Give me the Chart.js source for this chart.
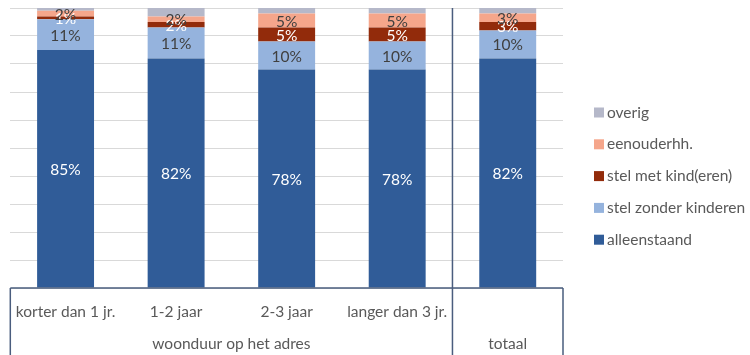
<!DOCTYPE html>
<html>
<head>
<meta charset="utf-8">
<script src="https://cdn.jsdelivr.net/npm/chart.js@4.4.1/dist/chart.umd.min.js"></script>
<style>
  html, body { margin: 0; padding: 0; background: #ffffff; }
  #wrap { width: 750px; height: 355px; }
</style>
</head>
<body>
<div id="wrap"><canvas id="c" width="750" height="355"></canvas></div>
<script>
const categories = ["korter dan 1 jr.", "1-2 jaar", "2-3 jaar", "langer dan 3 jr.", "totaal"];
const groups = [
  { label: "woonduur op het adres", from: 0, to: 3 },
  { label: "totaal", from: 4, to: 4 }
];
const seriesNames = ["alleenstaand", "stel zonder kinderen", "stel met kind(eren)", "eenouderhh.", "overig"];
const alleenstaand = [85, 82, 78, 78, 82];
const stelZonder = [11, 11, 10, 10, 10];
const stelMetKind = [1, 2, 5, 5, 3];
const eenouder = [2, 2, 5, 5, 3];
const overig = [1, 3, 2, 2, 2];
const yTicks = [0, 10, 20, 30, 40, 50, 60, 70, 80, 90, 100];

const colors = ["#305C98", "#95B3DD", "#922B0B", "#F5A68B", "#B5B8C9"];
const labelColors = ["#FFFFFF", "#404040", "#FFFFFF", "#404040", null];
const FONT = "Lato, 'Open Sans', sans-serif";
const FS = 15.5;
const FRAME = "#4A5D7E";

const seriesValues = [alleenstaand, stelZonder, stelMetKind, eenouder, overig];

const datasets = seriesNames.map((name, i) => ({
  label: name,
  data: seriesValues[i],
  backgroundColor: colors[i],
  borderWidth: 0,
  categoryPercentage: 1.0,
  barPercentage: 0.515
}));

const labelPlugin = {
  id: 'segLabels',
  afterDatasetsDraw(chart) {
    const ctx = chart.ctx;
    ctx.save();
    ctx.font = FS + "px " + FONT;
    ctx.textAlign = "center";
    ctx.textBaseline = "middle";
    // draw white labels first, then dark ones on top
    const order = [0, 2, 1, 3];
    order.forEach(di => {
      const ds = chart.data.datasets[di];
      if (!labelColors[di]) return;
      const meta = chart.getDatasetMeta(di);
      meta.data.forEach((bar, j) => {
        const v = ds.data[j];
        const yc = (bar.y + bar.base) / 2;
        ctx.fillStyle = labelColors[di];
        ctx.fillText(v + "%", bar.x, yc + 1);
      });
    });
    ctx.restore();
  }
};

const framePlugin = {
  id: 'frame',
  afterDraw(chart) {
    const ctx = chart.ctx;
    const xs = chart.scales.x;
    const area = chart.chartArea;
    const bottom = chart.height;
    const half = (xs.getPixelForValue(1) - xs.getPixelForValue(0)) / 2;
    ctx.save();
    ctx.strokeStyle = FRAME;
    ctx.lineWidth = 1.5;
    ctx.beginPath();
    ctx.moveTo(area.left, area.bottom);
    ctx.lineTo(area.right, area.bottom);
    ctx.moveTo(area.left, area.bottom);
    ctx.lineTo(area.left, bottom);
    ctx.moveTo(area.right, area.bottom);
    ctx.lineTo(area.right, bottom);
    const sepX = xs.getPixelForValue(groups[0].to) + half;
    ctx.moveTo(sepX, area.top);
    ctx.lineTo(sepX, bottom);
    ctx.stroke();
    ctx.font = FS + "px " + FONT;
    ctx.fillStyle = "#595959";
    ctx.textAlign = "center";
    ctx.textBaseline = "middle";
    groups.forEach(g => {
      const x0 = xs.getPixelForValue(g.from) - half;
      const x1 = xs.getPixelForValue(g.to) + half;
      ctx.fillText(g.label, (x0 + x1) / 2, 344);
    });
    ctx.restore();
  }
};

const legendPlugin = {
  id: 'customLegend',
  afterDraw(chart) {
    const ctx = chart.ctx;
    ctx.save();
    ctx.font = FS + "px " + FONT;
    ctx.textBaseline = "middle";
    ctx.textAlign = "left";
    const n = chart.data.datasets.length;
    const startY = 112.5, step = 31.8;
    for (let k = 0; k < n; k++) {
      const di = n - 1 - k;
      const ds = chart.data.datasets[di];
      const y = startY + k * step;
      ctx.fillStyle = ds.backgroundColor;
      ctx.fillRect(594, y - 5, 10, 10);
      ctx.fillStyle = "#595959";
      ctx.fillText(ds.label, 607, y);
    }
    ctx.restore();
  }
};

new Chart(document.getElementById('c'), {
  type: 'bar',
  data: { labels: categories, datasets },
  options: {
    responsive: false,
    animation: false,
    layout: { padding: { left: 8, right: 187, top: 8, bottom: 0 } },
    plugins: { legend: { display: false }, tooltip: { enabled: false } },
    scales: {
      x: {
        stacked: true,
        grid: { display: false, drawTicks: false },
        border: { display: false },
        ticks: {
          color: "#595959", font: { family: FONT, size: FS }, padding: 15, maxRotation: 0, autoSkip: false,
          callback(value, index) {
            const g = groups.find(gr => index >= gr.from && index <= gr.to);
            return (g && g.from === g.to) ? "" : categories[index];
          }
        },
        afterFit(scale) { scale.height = 67; }
      },
      y: {
        stacked: true,
        min: 0,
        max: 100,
        afterBuildTicks(scale) { scale.ticks = yTicks.map(v => ({ value: v })); },
        grid: { color: "#D9D9D9", lineWidth: 1, drawTicks: false },
        border: { display: false },
        ticks: { display: false },
        afterFit(scale) { scale.width = 0; }
      }
    }
  },
  plugins: [labelPlugin, framePlugin, legendPlugin]
});
</script>
</body>
</html>
